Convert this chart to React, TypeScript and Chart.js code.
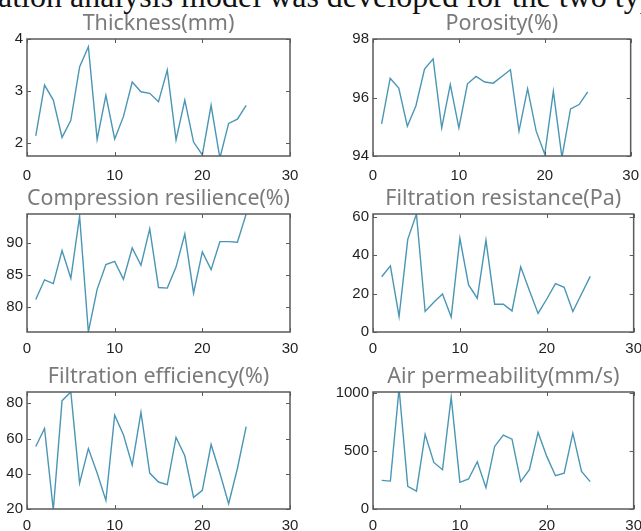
import React, { useEffect, useRef } from "react";
import { Chart, registerables } from "chart.js";

Chart.register(...registerables);

// ---------- data ----------
const sampleIndex = [1, 2, 3, 4, 5, 6, 7, 8, 9, 10, 11, 12, 13, 14, 15, 16, 17, 18, 19, 20, 21, 22, 23, 24, 25];
const xTicks = [0, 10, 20, 30];

const thickness = [2.13, 3.11, 2.82, 2.1, 2.43, 3.46, 3.85, 2.06, 2.91, 2.07, 2.5, 3.17, 2.98, 2.95, 2.79, 3.4, 2.05, 2.82, 2.01, 1.76, 2.72, 1.7, 2.37, 2.45, 2.72];
const thicknessTicks = [2, 3, 4];
const thicknessRange = [1.74, 4];

const porosity = [95.1, 96.66, 96.32, 95.02, 95.72, 96.97, 97.32, 94.96, 96.44, 94.96, 96.47, 96.72, 96.53, 96.49, 96.72, 96.95, 94.85, 96.3, 94.85, 94.06, 96.21, 93.95, 95.61, 95.76, 96.19];
const porosityTicks = [94, 96, 98];
const porosityRange = [94, 98];

const compression = [81.1, 84.2, 83.6, 88.8, 84.45, 94.2, 76.0, 82.7, 86.6, 87.1, 84.3, 89.2, 86.5, 92.2, 83.0, 82.9, 86.2, 91.4, 82.1, 88.6, 85.8, 90.2, 90.2, 90.1, 94.55];
const compressionTicks = [80, 85, 90];
const compressionRange = [76.0, 94.55];

const resistance = [28.8, 34.5, 8.1, 48.3, 61.5, 10.7, 15.5, 19.8, 7.8, 48.8, 24.5, 17.6, 47.8, 14.5, 14.5, 11.0, 34.0, 21.6, 9.7, 17.2, 25.2, 23.3, 10.7, 19.8, 29.0];
const resistanceTicks = [0, 20, 40, 60];
const resistanceRange = [0, 61.5];

const efficiency = [55.5, 65.7, 19.5, 81.5, 86.4, 34.7, 54.3, 40.4, 24.9, 73.2, 62.1, 44.9, 74.9, 40.4, 35.3, 33.8, 60.6, 50.2, 26.6, 30.6, 56.6, 40.4, 23.0, 43.0, 66.8];
const efficiencyTicks = [20, 40, 60, 80];
const efficiencyRange = [20, 86.4];

const airPermeability = [247, 241, 1040, 195, 155, 644, 402, 339, 966, 230, 259, 408, 184, 540, 638, 603, 236, 339, 661, 454, 287, 310, 655, 325, 236];
const airTicks = [0, 500, 1000];
const airRange = [0, 1010];

const headerText = "ation analysis model was developed for the two types";

// ---------- styles ----------
const LINE_COLOR = "#4a96b5";
const FRAME_COLOR = "#5a5a5a";
const TICK_LABEL_COLOR = "#1f1f1f";
const TITLE_COLOR = "#7a7a7a";

const frameTicksPlugin = {
  id: "frameTicks",
  afterDatasetsDraw(chart: any) {
    const { ctx, chartArea: a, scales } = chart;
    const xs = scales.x;
    const ys = scales.y;
    ctx.save();
    ctx.strokeStyle = FRAME_COLOR;
    ctx.lineWidth = 1.5;
    ctx.strokeRect(a.left, a.top, a.right - a.left, a.bottom - a.top);
    ctx.lineWidth = 1;
    const tl = 4;
    ctx.beginPath();
    for (const t of xs.ticks) {
      const px = Math.round(xs.getPixelForValue(t.value)) + 0.5;
      ctx.moveTo(px, a.bottom);
      ctx.lineTo(px, a.bottom - tl);
      ctx.moveTo(px, a.top);
      ctx.lineTo(px, a.top + tl);
    }
    for (const t of ys.ticks) {
      const py = Math.round(ys.getPixelForValue(t.value)) + 0.5;
      ctx.moveTo(a.left, py);
      ctx.lineTo(a.left + tl, py);
      ctx.moveTo(a.right, py);
      ctx.lineTo(a.right - tl, py);
    }
    ctx.stroke();
    ctx.restore();
  },
};

type PanelProps = {
  title: string;
  values: number[];
  yTicks: number[];
  yRange: number[];
  left: number;
  top: number;
  width: number;
  height: number;
  yAxisWidth: number;
  padRight: number;
  xLabelPad: number;
  xAxisHeight: number;
};

function Panel(props: PanelProps) {
  const ref = useRef<HTMLCanvasElement | null>(null);
  useEffect(() => {
    const canvas = ref.current;
    if (!canvas) return;
    const tickFont = { family: '"Liberation Sans", Arial, sans-serif', size: 15 };
    const chart = new Chart(canvas, {
      type: "line",
      data: {
        datasets: [
          {
            data: sampleIndex.map((x, i) => ({ x, y: props.values[i] })),
            borderColor: LINE_COLOR,
            borderWidth: 1.4,
            pointRadius: 0,
            tension: 0,
            fill: false,
            clip: 0,
          } as any,
        ],
      },
      options: {
        animation: false,
        responsive: false,
        devicePixelRatio: 1,
        layout: { padding: { left: 0, right: props.padRight, top: 0, bottom: 0 } },
        plugins: {
          legend: { display: false },
          tooltip: { enabled: false },
          title: {
            display: true,
            text: props.title,
            color: TITLE_COLOR,
            fullSize: false,
            font: { family: '"Noto Sans", sans-serif', size: 21.5, weight: "normal", lineHeight: 1.2 },
            padding: { top: 0.2, bottom: 2 },
          },
        },
        scales: {
          x: {
            type: "linear",
            min: 0,
            max: 30,
            afterBuildTicks: (s: any) => {
              s.ticks = xTicks.map((v) => ({ value: v }));
            },
            afterFit: (s: any) => {
              s.height = props.xAxisHeight;
            },
            grid: { display: false, drawTicks: false },
            border: { display: false },
            ticks: {
              padding: props.xLabelPad,
              color: TICK_LABEL_COLOR,
              font: tickFont,
              maxRotation: 0,
              autoSkip: false,
              callback: (v: any) => String(v),
            },
          },
          y: {
            type: "linear",
            min: props.yRange[0],
            max: props.yRange[1],
            afterBuildTicks: (s: any) => {
              s.ticks = props.yTicks.map((v) => ({ value: v }));
            },
            afterFit: (s: any) => {
              s.width = props.yAxisWidth;
            },
            grid: { display: false, drawTicks: false },
            border: { display: false },
            ticks: {
              padding: 4,
              color: TICK_LABEL_COLOR,
              font: tickFont,
              autoSkip: false,
              callback: (v: any) => String(v),
            },
          },
        },
      } as any,
      plugins: [frameTicksPlugin],
    });
    return () => chart.destroy();
  }, []);
  return (
    <canvas
      ref={ref}
      width={props.width}
      height={props.height}
      style={{ position: "absolute", left: props.left, top: props.top, width: props.width, height: props.height }}
    />
  );
}

const LEFT_COL = { left: 0, width: 320, yAxisWidth: 27, padRight: 30 };
const RIGHT_COL = { left: 330, width: 320, yAxisWidth: 43, padRight: 13 };
const ROW1 = { top: 11, height: 173, xLabelPad: 11, xAxisHeight: 28 };
const ROW2 = { top: 186, height: 168, xLabelPad: 8, xAxisHeight: 22 };
const ROW3 = { top: 364, height: 167, xLabelPad: 8, xAxisHeight: 22 };

export default function App() {
  return (
    <div
      style={{
        position: "absolute",
        left: 0,
        top: 0,
        width: 641,
        height: 531,
        overflow: "hidden",
        background: "#ffffff",
      }}
    >
      <div
        style={{
          position: "absolute",
          left: -2,
          top: -20,
          fontFamily: '"Liberation Serif", serif',
          fontSize: 32,
          lineHeight: "32px",
          whiteSpace: "nowrap",
          color: "#111",
        }}
      >
        {headerText}
      </div>
      <Panel title="Thickness(mm)" values={thickness} yTicks={thicknessTicks} yRange={thicknessRange} {...LEFT_COL} {...ROW1} />
      <Panel title="Porosity(%)" values={porosity} yTicks={porosityTicks} yRange={porosityRange} {...RIGHT_COL} {...ROW1} />
      <Panel title="Compression resilience(%)" values={compression} yTicks={compressionTicks} yRange={compressionRange} {...LEFT_COL} {...ROW2} />
      <Panel title="Filtration resistance(Pa)" values={resistance} yTicks={resistanceTicks} yRange={resistanceRange} {...RIGHT_COL} {...ROW2} />
      <Panel title="Filtration efficiency(%)" values={efficiency} yTicks={efficiencyTicks} yRange={efficiencyRange} {...LEFT_COL} {...ROW3} />
      <Panel title="Air permeability(mm/s)" values={airPermeability} yTicks={airTicks} yRange={airRange} {...RIGHT_COL} {...ROW3} />
    </div>
  );
}
